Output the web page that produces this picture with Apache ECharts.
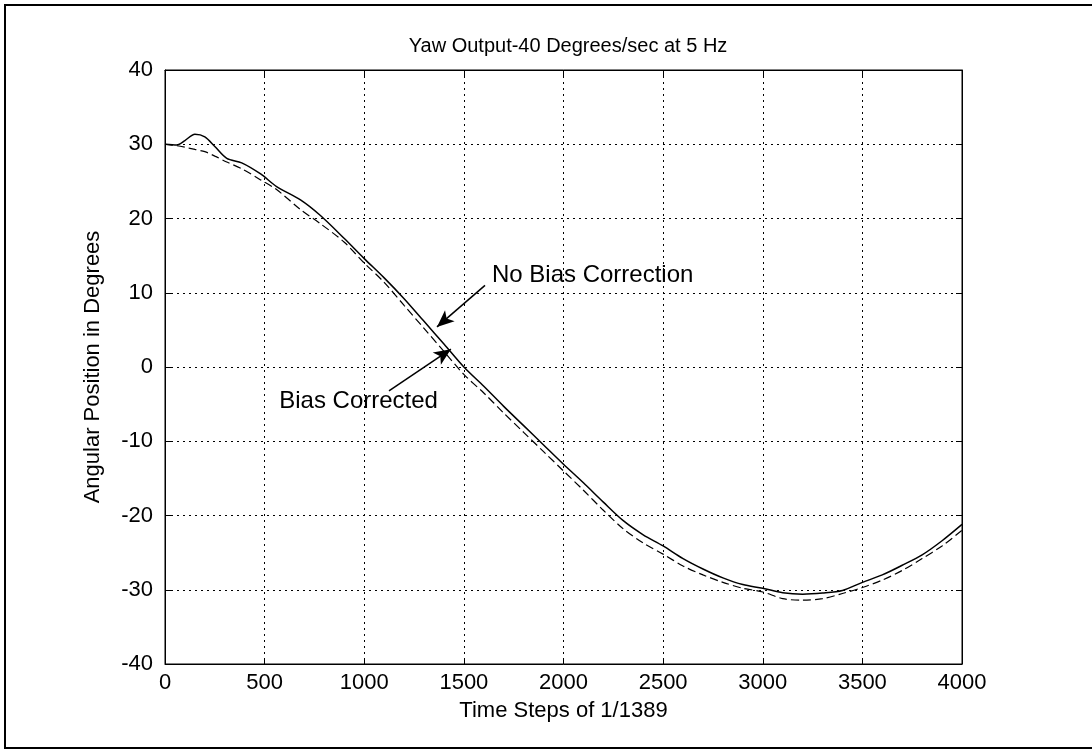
<!DOCTYPE html>
<html>
<head>
<meta charset="utf-8">
<script src="https://cdn.jsdelivr.net/npm/echarts@6/dist/echarts.min.js"></script>
<style>html,body{margin:0;padding:0;background:#fff}#c{width:1092px;height:754px}</style>
</head>
<body>
<div id="c"></div>
<script>
var titleText = 'Yaw Output-40 Degrees/sec at 5 Hz';
var xName = 'Time Steps of 1/1389';
var yName = 'Angular Position in Degrees';
var timeSteps = [0, 60, 100, 150, 200, 250, 310, 385, 480, 560, 680, 780, 900, 1000, 1100, 1200, 1300, 1400, 1500, 1600, 1700, 1800, 1900, 2000, 2100, 2200, 2300, 2400, 2500, 2600, 2700, 2800, 2900, 3000, 3100, 3200, 3300, 3400, 3500, 3600, 3700, 3800, 3900, 4000];
var noBias = [30.0, 29.9, 30.5, 31.35, 31.0, 29.7, 28.1, 27.5, 26.0, 24.3, 22.5, 20.4, 17.3, 14.6, 12.0, 9.2, 6.15, 3.1, 0.0, -2.6, -5.3, -7.9, -10.5, -13.1, -15.6, -18.2, -20.7, -22.6, -24.1, -25.8, -27.2, -28.4, -29.3, -29.8, -30.4, -30.6, -30.45, -30.1, -29.0, -28.0, -26.7, -25.3, -23.4, -21.2];
var biasCorrected = [30.0, 29.8, 29.6, 29.3, 29.0, 28.4, 27.6, 26.7, 25.2, 23.9, 21.2, 19.3, 16.8, 14.0, 11.4, 8.3, 5.2, 2.1, -1.0, -3.5, -6.2, -8.8, -11.4, -14.0, -16.6, -19.3, -21.8, -23.7, -25.2, -26.8, -28.0, -29.0, -29.8, -30.3, -31.2, -31.4, -31.2, -30.5, -29.7, -28.7, -27.4, -25.8, -24.1, -22.0];
var xTicks = [0, 500, 1000, 1500, 2000, 2500, 3000, 3500, 4000];
var yTicks = [-40, -30, -20, -10, 0, 10, 20, 30, 40];
var labelNoBias = 'No Bias Correction';
var labelBias = 'Bias Corrected';

function pairs(xs, ys){ return xs.map(function(x,i){ return [x, ys[i]]; }); }

var FONT = 'Liberation Sans, Arial, sans-serif';
var chart = echarts.init(document.getElementById('c'), null, {renderer:'canvas'});
var gridLine = {show:true, lineStyle:{color:'#000', type:[2,4], width:1}};
var axLine = {show:true, onZero:false, lineStyle:{color:'#000', width:1}};
var tick = {show:true, inside:true, length:6, lineStyle:{color:'#000'}};
var plain = function(v){ return String(v); };

chart.setOption({
  backgroundColor:'#fff',
  animation:false,
  title:{text:titleText, left:563, top:31, textAlign:'center',
    textStyle:{fontFamily:FONT, fontSize:20, fontWeight:'normal', color:'#000'}},
  grid:{left:165, right:130, top:70, bottom:90, show:true, borderColor:'#000', borderWidth:1, backgroundColor:'transparent'},
  xAxis:[{type:'value', min:xTicks[0], max:xTicks[xTicks.length-1], interval:500, position:'bottom',
    name:xName, nameLocation:'middle', nameGap:36,
    nameTextStyle:{fontFamily:FONT, fontSize:22, color:'#000'},
    axisLine:axLine, axisTick:tick, splitLine:gridLine,
    axisLabel:{fontFamily:FONT, fontSize:22, color:'#000', margin:8, formatter:plain}},
    {type:'value', min:xTicks[0], max:xTicks[xTicks.length-1], interval:500, position:'top',
    axisLine:axLine, axisTick:tick, splitLine:{show:false}, axisLabel:{show:false}}],
  yAxis:[{type:'value', min:yTicks[0], max:yTicks[yTicks.length-1], interval:10, position:'left',
    name:yName, nameLocation:'middle', nameGap:61, nameRotate:90,
    nameTextStyle:{fontFamily:FONT, fontSize:22, color:'#000'},
    axisLine:axLine, axisTick:tick, splitLine:gridLine,
    axisLabel:{fontFamily:FONT, fontSize:22, color:'#000', margin:12, formatter:plain}},
    {type:'value', min:yTicks[0], max:yTicks[yTicks.length-1], interval:10, position:'right',
    axisLine:axLine, axisTick:tick, splitLine:{show:false}, axisLabel:{show:false}}],
  graphic:[{type:'rect', shape:{x:5, y:5, width:1100, height:743}, style:{fill:'none', stroke:'#000', lineWidth:2}, silent:true, z:-1}],
  series:[
    {type:'line', name:labelNoBias, data:pairs(timeSteps, noBias), showSymbol:false, smooth:0.3,
      lineStyle:{color:'#000', width:1.5}, z:3,
      markLine:{silent:true, symbol:['none','arrow'], symbolSize:[11,17],
        lineStyle:{color:'#000', type:'solid', width:1.5}, label:{show:false},
        data:[[{coord:[1606, 11.0]}, {coord:[1365, 5.4]}]]},
      markPoint:{silent:true, symbol:'circle', symbolSize:0,
        label:{show:true, position:'right', distance:0, formatter:labelNoBias, fontFamily:FONT, fontSize:24, color:'#000'},
        data:[{coord:[1641, 12.4]}]}},
    {type:'line', name:labelBias, data:pairs(timeSteps, biasCorrected), showSymbol:false, smooth:0.3,
      lineStyle:{color:'#000', width:1.2, type:[8,4]}, z:2,
      markLine:{silent:true, symbol:['none','arrow'], symbolSize:[11,17],
        lineStyle:{color:'#000', type:'solid', width:1.5}, label:{show:false},
        data:[[{coord:[1124, -3.2]}, {coord:[1435, 2.4]}]]},
      markPoint:{silent:true, symbol:'circle', symbolSize:0,
        label:{show:true, position:'left', distance:0, formatter:labelBias, fontFamily:FONT, fontSize:24, color:'#000'},
        data:[{coord:[1370, -4.6]}]}}
  ]
});
</script>
</body>
</html>
